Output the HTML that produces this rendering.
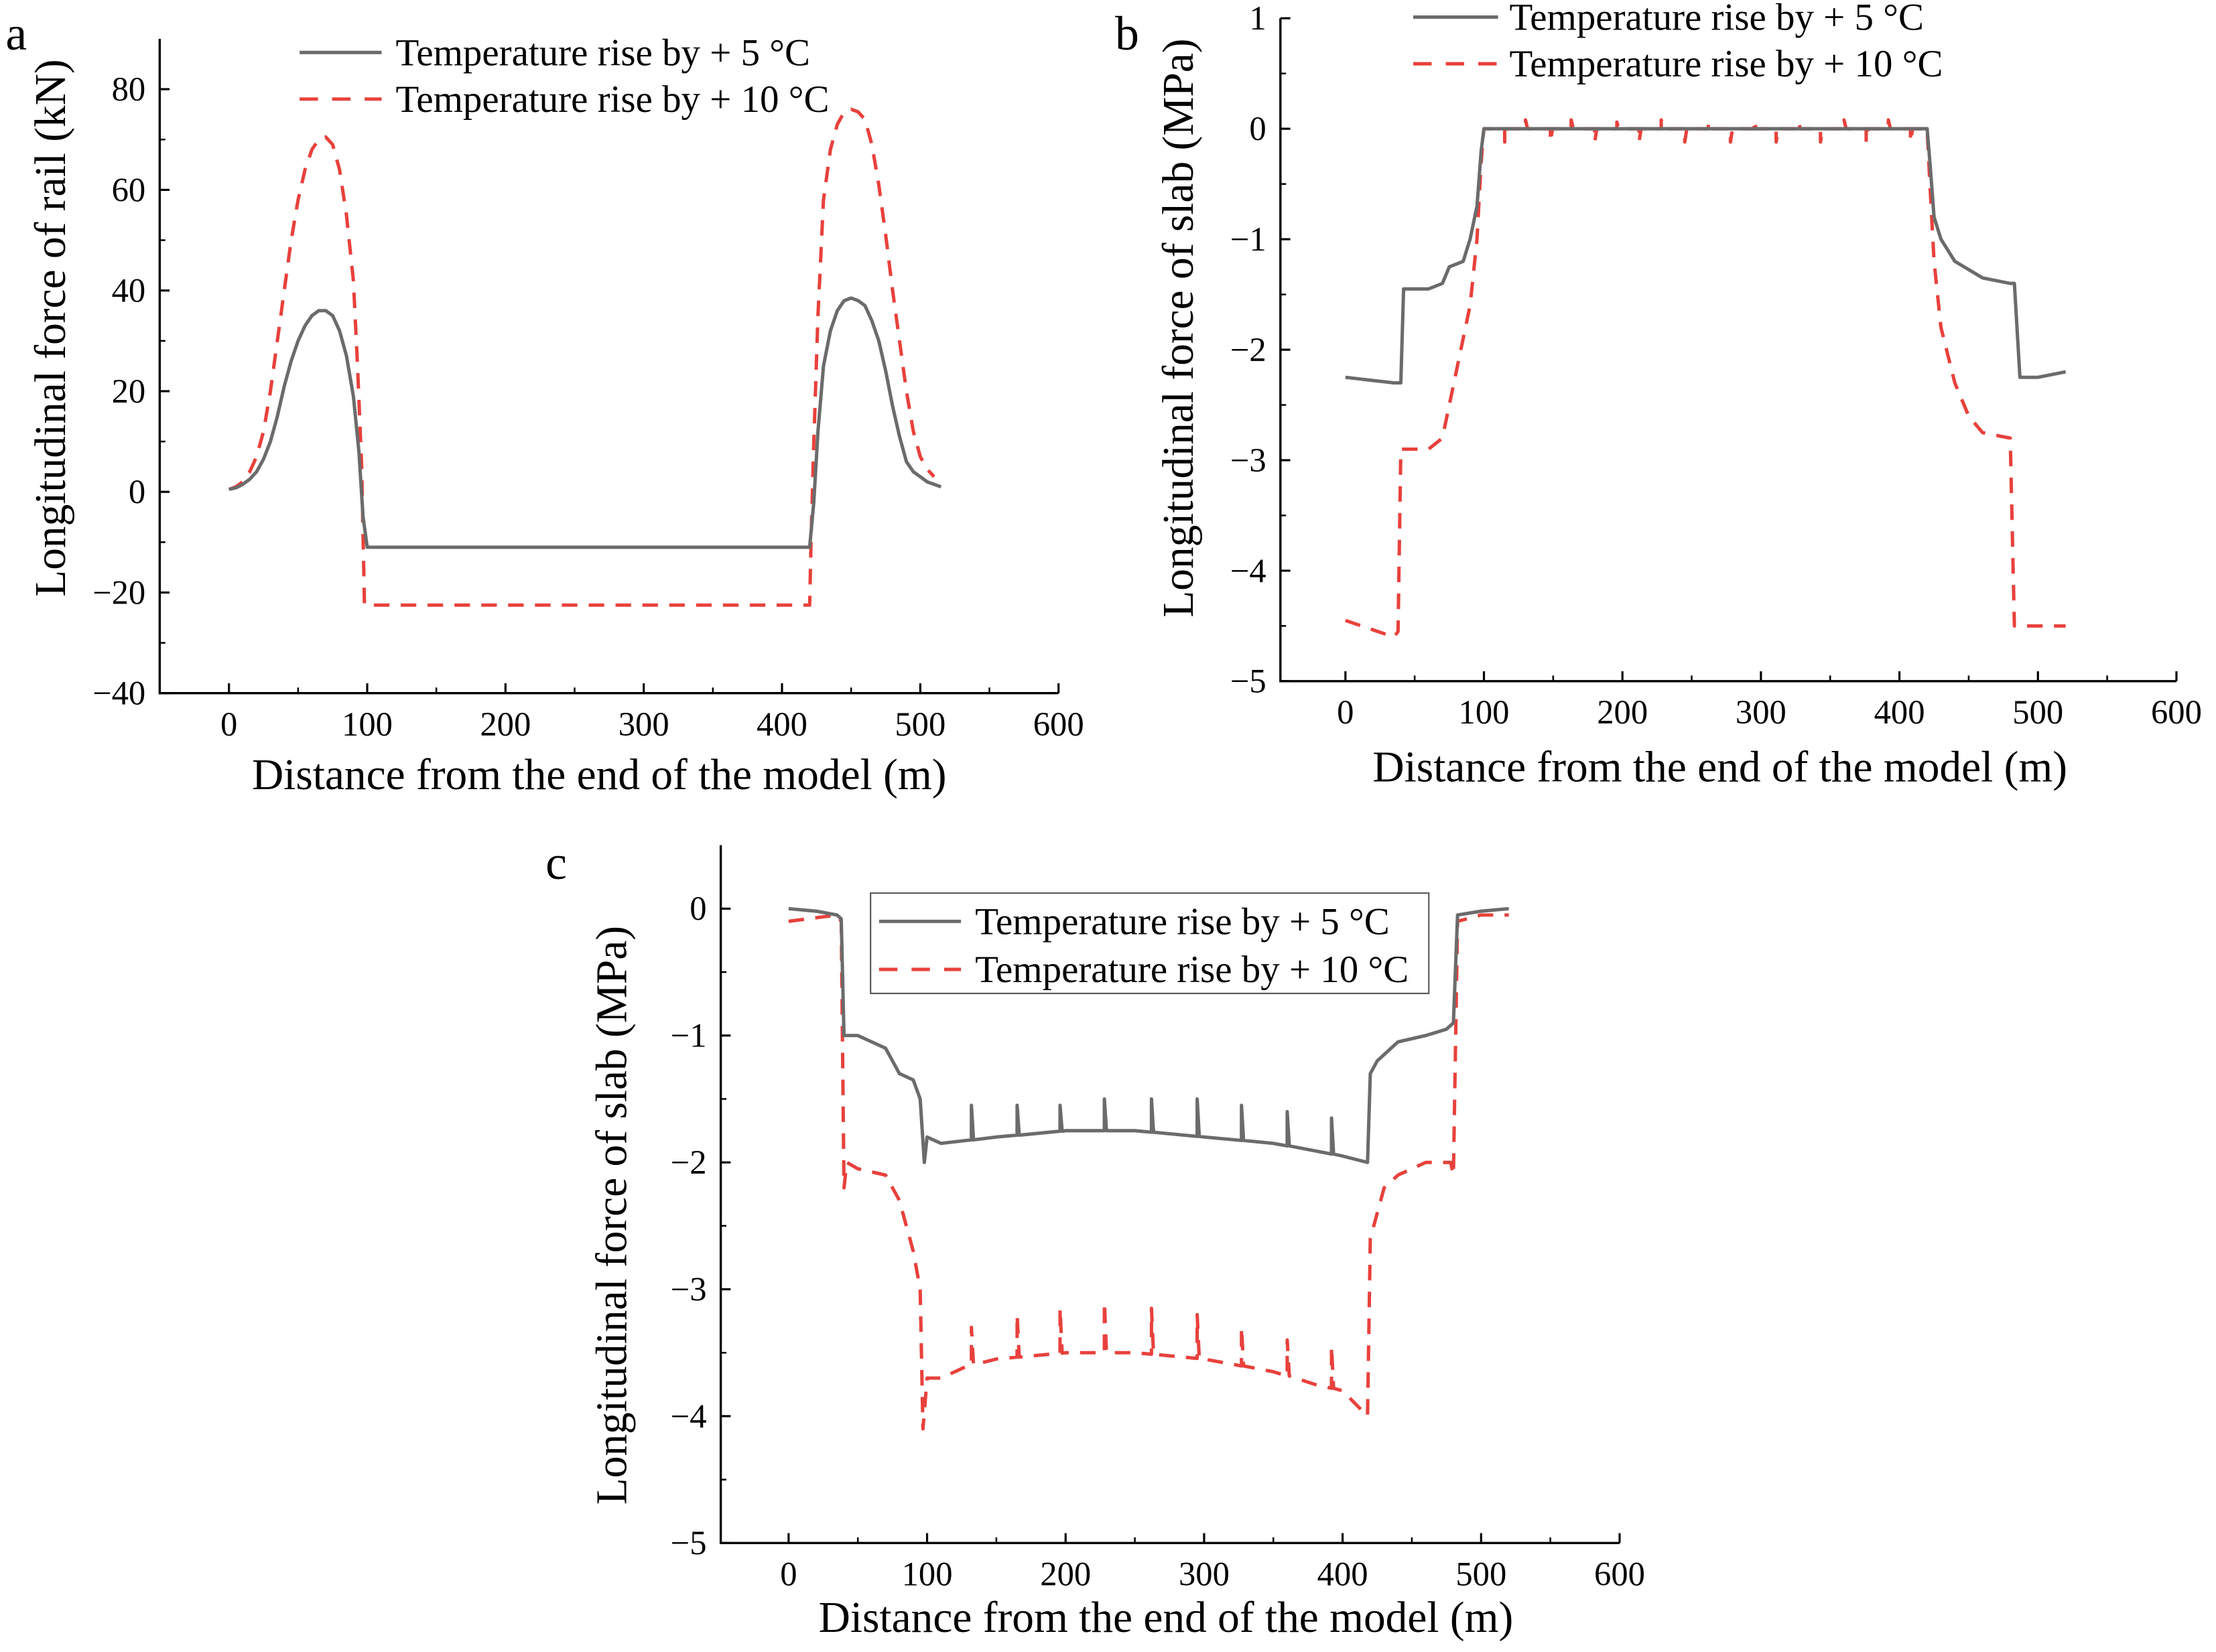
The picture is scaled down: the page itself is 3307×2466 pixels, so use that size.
<!DOCTYPE html>
<html><head><meta charset="utf-8"><style>
html,body{margin:0;padding:0;background:#fff}
svg{display:block}
svg text{font-family:"Liberation Serif","Times New Roman","DejaVu Serif",serif;fill:#000}
</style></head><body>
<svg id="fig" width="3307" height="2466" viewBox="0 0 1568 1169" font-family="Liberation Serif, DejaVu Serif, serif" xmlns="http://www.w3.org/2000/svg"></svg>
<script>
// ---- Data: panel a (rail force, kN) ----
const aX5=[0,5,10,15,20,25,30,35,40,45,50,55,60,65,70,75,80,85,90,94,97,100,420,423,426,430,435,440,445,450,455,460,465,470,475,480,485,490,495,500,505,510,515];
const aY5=[0.5,0.8,1.5,2.5,4,6.5,10,15,21,26,30,33,35,36,36,35,32,27,19,8,-5,-11,-11,-2,12,25,32,36,38,38.5,38,37,34,30,24,17,11,6,4,3,2,1.5,1];
const aX10=[0,5,10,15,20,25,30,35,40,45,50,55,60,65,70,75,80,85,90,93,96,98,100,420,421,423,426,430,435,440,445,450,455,460,465,470,475,480,485,490,495,500,505,510];
const aY10=[0.5,1,2,4,7,12,20,30,40,50,58,64,68,70,70.5,69,64,55,42,25,5,-22.5,-22.5,-22.5,-10,10,35,58,68,73,75.5,76,75.5,74,69,61,51,40,30,20,12,7,4.5,3];
// ---- Data: panel b (slab, MPa) ----
const bX5=[0,35,40,42,60,70,75,85,90,95,98,100,420,422,425,430,440,460,480,483,487,500,520];
const bY5=[-2.25,-2.3,-2.3,-1.45,-1.45,-1.4,-1.25,-1.2,-1.0,-0.7,-0.2,0,0,-0.3,-0.8,-1.0,-1.2,-1.35,-1.4,-1.4,-2.25,-2.25,-2.2];
const bX10=[0,35,38,40,50,60,65,70,75,80,85,90,95,98,100,420,422,425,430,440,450,460,480,483,500,520];
const bY10=[-4.45,-4.6,-4.55,-2.9,-2.9,-2.9,-2.85,-2.8,-2.5,-2.2,-1.9,-1.6,-1.0,-0.3,0,0,-0.5,-1.2,-1.8,-2.3,-2.6,-2.75,-2.8,-4.5,-4.5,-4.5];
const bSpikes=[115,130,148,163,180,196,212,228,245,262,278,295,311,327,343,360,376,392,408];
const bSpikeVal=[-0.12,0.08,-0.12,0.08,-0.12,0.06,-0.12,0.08,-0.12,0.06,-0.12,0.08,-0.12,0.06,-0.12,0.08,-0.12,0.08,-0.12];
// ---- Data: panel c (slab, MPa) ----
const cX5=[0,20,35,38,40,50,60,70,80,90,95,98,100,110,150,200,250,300,350,400,418,420,425,440,460,475,480,483,500,520];
const cY5=[0,-0.02,-0.05,-0.08,-1.0,-1.0,-1.05,-1.1,-1.3,-1.35,-1.5,-2.0,-1.8,-1.85,-1.8,-1.75,-1.75,-1.8,-1.85,-1.95,-2.0,-1.3,-1.2,-1.05,-1.0,-0.95,-0.9,-0.05,-0.02,0];
const cX10=[0,35,38,40,42,50,70,80,90,95,97,100,110,130,150,200,250,300,350,380,400,418,420,425,430,440,460,478,480,483,500,520];
const cY10=[-0.1,-0.05,-0.1,-2.2,-2.0,-2.05,-2.1,-2.3,-2.7,-3.0,-4.1,-3.7,-3.7,-3.6,-3.55,-3.5,-3.5,-3.55,-3.65,-3.75,-3.8,-4.0,-2.6,-2.4,-2.2,-2.1,-2.0,-2.0,-2.1,-0.1,-0.05,-0.05];
const cSpikes=[132,165,196,228,262,295,327,360,392];
const cSpike5=[-1.55,-1.55,-1.55,-1.5,-1.5,-1.5,-1.55,-1.6,-1.65];
const cSpike10=[-3.3,-3.2,-3.15,-3.1,-3.15,-3.2,-3.3,-3.4,-3.45];
const xTicks=[0,100,200,300,400,500,600];
const aYTicks=[-40,-20,0,20,40,60,80];
const bYTicks=[-5,-4,-3,-2,-1,0,1];
const cYTicks=[-5,-4,-3,-2,-1,0];

const NS="http://www.w3.org/2000/svg";
const svg=document.getElementById('fig');
function el(tag,attrs,parent){const e=document.createElementNS(NS,tag);for(const k in attrs)e.setAttribute(k,attrs[k]);(parent||svg).appendChild(e);return e;}
function interp(xs,ys,x){for(let i=0;i<xs.length-1;i++){if(x>=xs[i]&&x<=xs[i+1]){const t=(x-xs[i])/((xs[i+1]-xs[i])||1);return ys[i]+t*(ys[i+1]-ys[i]);}}return ys[ys.length-1];}
function withSpikes(xs,ys,sp,sv){const pts=xs.map((x,i)=>[x,ys[i]]);if(sp){sp.forEach((p,i)=>{const b=interp(xs,ys,p);pts.push([p-0.01,b]);pts.push([p,sv[i]]);pts.push([p+1.5,b]);});}pts.sort((a,b)=>a[0]-b[0]);return pts;}

function panel(cfg){
  const g=el('g',{});
  
  
  const X=v=>cfg.x0+(v-0)*(cfg.x600-cfg.x0)/600;
  const Y=v=>cfg.yA+(v-cfg.vA)*(cfg.yB-cfg.yA)/(cfg.vB-cfg.vA);
  const L=cfg.spine, B=Y(cfg.ymin), T=Y(cfg.ymax), R=X(600);
  const ax=el('path',{d:`M${L},${T} V${B} H${R}`,stroke:'#000','stroke-width':1.6,fill:'none'},g);
  
  xTicks.forEach(t=>{
    el('line',{x1:X(t),x2:X(t),y1:B,y2:B-7,stroke:'#000','stroke-width':1.5},g);
    if(t<600)el('line',{x1:X(t+50),x2:X(t+50),y1:B,y2:B-4,stroke:'#000','stroke-width':1.2},g);
    const tx=el('text',{x:X(t),y:B+30,'text-anchor':'middle','font-size':24},g);tx.textContent=t;
    
  });
  cfg.yt.forEach((t,i)=>{
    el('line',{x1:L,x2:L+7,y1:Y(t),y2:Y(t),stroke:'#000','stroke-width':1.5},g);
    if(i<cfg.yt.length-1){const m=(t+cfg.yt[i+1])/2;el('line',{x1:L,x2:L+4,y1:Y(m),y2:Y(m),stroke:'#000','stroke-width':1.2},g);}
    const tx=el('text',{x:L-10,y:Y(t)+8,'text-anchor':'end','font-size':24},g);tx.textContent=(t<0?'\u2212'+(-t):t);
    
  });
  const xt=el('text',{x:cfg.xtX,y:B+cfg.xtOff,'text-anchor':'middle','font-size':31},g);xt.textContent='Distance from the end of the model (m)';
  
  const yt=el('text',{x:0,y:0,'text-anchor':'middle','font-size':31,transform:`translate(${cfg.ytX},${cfg.ytY}) rotate(-90)`},g);yt.textContent=cfg.ytitle;
  
  const lt=el('text',{x:cfg.lx,y:cfg.ly,'font-size':34},g);lt.textContent=cfg.letter;
  
  const s1=cfg.s5.map(p=>`${X(p[0]).toFixed(2)},${Y(p[1]).toFixed(2)}`).join(' L');
  const s2=cfg.s10.map(p=>`${X(p[0]).toFixed(2)},${Y(p[1]).toFixed(2)}`).join(' L');
  const p2=el('path',{d:'M'+s2,stroke:'#e8413c','stroke-width':2.4,fill:'none','stroke-dasharray':'11,8','stroke-linejoin':'round'},g);
  
  const p1=el('path',{d:'M'+s1,stroke:'#6b6b6b','stroke-width':2.4,fill:'none','stroke-linejoin':'round'},g);
  
  const lg=el('g',{},g);
  if(cfg.box)el('rect',{x:cfg.box[0],y:cfg.box[1],width:cfg.box[2],height:cfg.box[3],fill:'#fff',stroke:'#555','stroke-width':1},lg);
  el('line',{x1:cfg.lg[0],x2:cfg.lg[1],y1:cfg.lg[3],y2:cfg.lg[3],stroke:'#6b6b6b','stroke-width':2.4},lg);
  el('line',{x1:cfg.lg[0],x2:cfg.lg[1],y1:cfg.lg[4],y2:cfg.lg[4],stroke:'#e8413c','stroke-width':2.4,'stroke-dasharray':'13,10'},lg);
  const e1=el('text',{x:cfg.lg[2],y:cfg.lg[3]+9,'font-size':27},lg);e1.textContent='Temperature rise by + 5 \u00b0C';
  
  const e2=el('text',{x:cfg.lg[2],y:cfg.lg[4]+9,'font-size':27},lg);e2.textContent='Temperature rise by + 10 \u00b0C';
  
}

panel({name:'panel-a',letter:'a',lx:4,ly:35,spine:113,x0:162,x600:749,yA:348,vA:0,yB:63,vB:80,ymin:-40,ymax:90,yt:aYTicks,
  s5:withSpikes(aX5,aY5),s10:withSpikes(aX10,aY10),xtX:424,xtOff:68,ytitle:'Longitudinal force of rail (kN)',ytX:46,ytY:232,
  lg:[212,270,280,37,70]});
panel({name:'panel-b',letter:'b',lx:789,ly:35,spine:906,x0:952,x600:1540,yA:91,vA:0,yB:482,vB:-5,ymin:-5,ymax:1,yt:bYTicks,
  s5:withSpikes(bX5,bY5),s10:withSpikes(bX10,bY10,bSpikes,bSpikeVal),xtX:1217,xtOff:71,ytitle:'Longitudinal force of slab (MPa)',ytX:844,ytY:232,
  lg:[1000,1060,1068,12,45]});
panel({name:'panel-c',letter:'c',lx:386,ly:622,spine:510,x0:558,x600:1146,yA:643,vA:0,yB:1092,vB:-5,ymin:-5,ymax:0.5,yt:cYTicks,
  s5:withSpikes(cX5,cY5,cSpikes,cSpike5),s10:withSpikes(cX10,cY10,cSpikes,cSpike10),xtX:825,xtOff:63,ytitle:'Longitudinal force of slab (MPa)',ytX:443,ytY:860,
  lg:[622,680,690,652,686],box:[616,632,395,71]});
</script>
</body></html>
